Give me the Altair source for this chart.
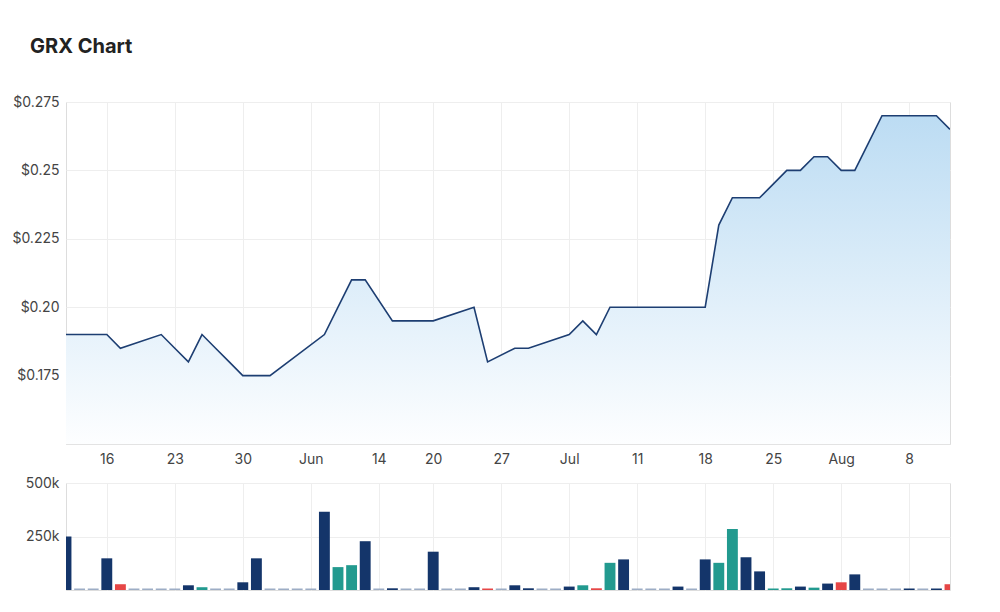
import altair as alt
import pandas as pd

# trading days (ordinal axis, weekends/holidays removed)
dates = [
    "2022-05-11", "2022-05-12", "2022-05-13", "2022-05-16", "2022-05-17", "2022-05-18",
    "2022-05-19", "2022-05-20", "2022-05-23", "2022-05-24", "2022-05-25", "2022-05-26",
    "2022-05-27", "2022-05-30", "2022-05-31", "2022-06-01", "2022-06-02", "2022-06-03",
    "2022-06-06", "2022-06-07", "2022-06-08", "2022-06-09", "2022-06-10", "2022-06-14",
    "2022-06-15", "2022-06-16", "2022-06-17", "2022-06-20", "2022-06-21", "2022-06-22",
    "2022-06-23", "2022-06-24", "2022-06-27", "2022-06-28", "2022-06-29", "2022-06-30",
    "2022-07-01", "2022-07-04", "2022-07-05", "2022-07-06", "2022-07-07", "2022-07-08",
    "2022-07-11", "2022-07-12", "2022-07-13", "2022-07-14", "2022-07-15", "2022-07-18",
    "2022-07-19", "2022-07-20", "2022-07-21", "2022-07-22", "2022-07-25", "2022-07-26",
    "2022-07-27", "2022-07-28", "2022-07-29", "2022-08-01", "2022-08-02", "2022-08-03",
    "2022-08-04", "2022-08-05", "2022-08-08", "2022-08-09", "2022-08-10", "2022-08-11",
]

price = [
    0.19, 0.19, 0.19, 0.19, 0.185, None, None, 0.19, 0.185, 0.18,
    0.19, 0.185, 0.18, 0.175, 0.175, 0.175, None, None, None, 0.19,
    0.20, 0.21, 0.21, None, 0.195, 0.195, 0.195, 0.195, None, None,
    0.20, 0.18, None, 0.185, 0.185, None, None, 0.19, 0.195, 0.19,
    0.20, 0.20, 0.20, 0.20, 0.20, 0.20, 0.20, 0.20, 0.23, 0.24,
    0.24, 0.24, 0.245, 0.25, 0.25, 0.255, 0.255, 0.25, 0.25, 0.26,
    0.27, 0.27, 0.27, 0.27, 0.27, 0.265,
]

volume = [
    250000, 0, 0, 148000, 27000, 0, 0, 0, 0, 22000,
    13000, 0, 0, 36000, 148000, 0, 0, 0, 0, 366000,
    107000, 116000, 228000, 0, 8000, 0, 0, 179000, 0, 0,
    13000, 0, 0, 22000, 8000, 0, 0, 16000, 22000, 8000,
    127000, 143000, 0, 0, 0, 16000, 0, 143000, 127000, 285000,
    153000, 87000, 0, 8000, 16000, 11000, 30000, 36000, 73000, 0,
    0, 0, 6000, 0, 6000, 27000,
]

# bar category: flat / up / down / none (no trade)
direction = [
    "flat", "none", "none", "flat", "down", "none", "none", "none", "none", "flat",
    "up", "none", "none", "flat", "flat", "none", "none", "none", "none", "flat",
    "up", "up", "flat", "none", "flat", "none", "none", "flat", "none", "none",
    "flat", "down", "none", "flat", "flat", "none", "none", "flat", "up", "down",
    "up", "flat", "none", "none", "none", "flat", "none", "flat", "up", "up",
    "flat", "flat", "up", "up", "flat", "up", "flat", "down", "flat", "none",
    "none", "none", "flat", "none", "flat", "down",
]

tick_index = [3, 8, 13, 18, 23, 27, 32, 37, 42, 47, 52, 57, 62]
tick_labels = ["16", "23", "30", "Jun", "14", "20", "27", "Jul", "11", "18", "25", "Aug", "8"]

price_ticks = [0.175, 0.2, 0.225, 0.25, 0.275]
price_domain = [0.15, 0.275]
volume_ticks = [250000, 500000]

df = pd.DataFrame({
    "i": list(range(len(dates))),
    "date": dates,
    "price": price,
    "volume": volume,
    "dir": direction,
})

FONT = "Inter"
LABEL_COLOR = "#444444"
GRID = "#eeeeee"
N = len(dates) - 1

label_expr = "[" + ",".join("'%s'" % t for t in tick_labels) + "][indexof([" + \
    ",".join(str(v) for v in tick_index) + "], datum.value)]"

x_price = alt.X(
    "i:Q",
    scale=alt.Scale(domain=[0, N], nice=False, zero=False),
    axis=alt.Axis(
        values=tick_index, labelExpr=label_expr, title=None, ticks=False,
        domain=True, domainColor="#e3e3e3", grid=True, gridColor=GRID,
        labelPadding=8, labelFontSize=14, labelFont=FONT, labelColor=LABEL_COLOR,
    ),
)

y_price = alt.Y(
    "price:Q",
    scale=alt.Scale(domain=price_domain, nice=False, zero=False),
    axis=alt.Axis(
        values=price_ticks, title=None, ticks=False, domain=False,
        grid=True, gridColor=GRID, labelPadding=7, labelFontSize=14,
        labelFont=FONT, labelColor=LABEL_COLOR,
        labelExpr="'$' + (round(datum.value*1000) % 10 == 0 ? format(datum.value, '.2f') : format(datum.value, '.3f'))",
    ),
)

base_price = alt.Chart(df).transform_filter("isValid(datum.price)")

area = base_price.mark_area(
    clip=True,
    color=alt.Gradient(
        gradient="linear",
        stops=[
            alt.GradientStop(color="#bcdcf3", offset=0),
            alt.GradientStop(color="#fdfeff", offset=1),
        ],
        x1=1, x2=1, y1=0, y2=1,
    ),
).encode(x=x_price, y=y_price, y2=alt.datum(price_domain[0]))

line = base_price.mark_line(color="#1d3e72", strokeWidth=1.6, clip=True).encode(
    x="i:Q", y="price:Q"
)

price_chart = alt.layer(area, line).properties(width=884, height=342)

x_vol = alt.X(
    "x0:Q",
    scale=alt.Scale(domain=[0, N], nice=False, zero=False),
    axis=alt.Axis(
        values=tick_index, title=None, ticks=False, labels=False, domain=False,
        grid=True, gridColor=GRID,
    ),
)

bars = alt.Chart(df).transform_calculate(
    shown="max(datum.volume, 7000)",
    x0="datum.i - 0.4",
    x1="datum.i + 0.4",
).mark_bar(clip=True).encode(
    x=x_vol,
    x2="x1:Q",
    y=alt.Y(
        "shown:Q",
        scale=alt.Scale(domain=[0, 500000], nice=False),
        axis=alt.Axis(
            values=volume_ticks, title=None, ticks=False, domain=False,
            grid=True, gridColor=GRID, labelPadding=7, labelFontSize=14,
            labelFont=FONT, labelColor=LABEL_COLOR,
            labelExpr="format(datum.value/1000, 'd') + 'k'",
        ),
    ),
    y2=alt.datum(0),
    color=alt.Color(
        "dir:N",
        scale=alt.Scale(
            domain=["flat", "up", "down", "none"],
            range=["#14356a", "#229a8f", "#e64646", "#9dadc5"],
        ),
        legend=None,
    ),
).properties(width=884, height=107)

chart = alt.vconcat(price_chart, bars, spacing=39, bounds="flush").properties(
    title=alt.TitleParams(
        "GRX Chart", anchor="start", frame="group", font=FONT, fontSize=20,
        fontWeight=700, color="#222222", dx=-36, offset=38,
    ),
    padding={"left": 11, "top": 36, "right": 40, "bottom": 10},
).configure_view(stroke=None).configure(background="white")

chart.save("out.html", embed_options={"renderer": "svg", "actions": False})
